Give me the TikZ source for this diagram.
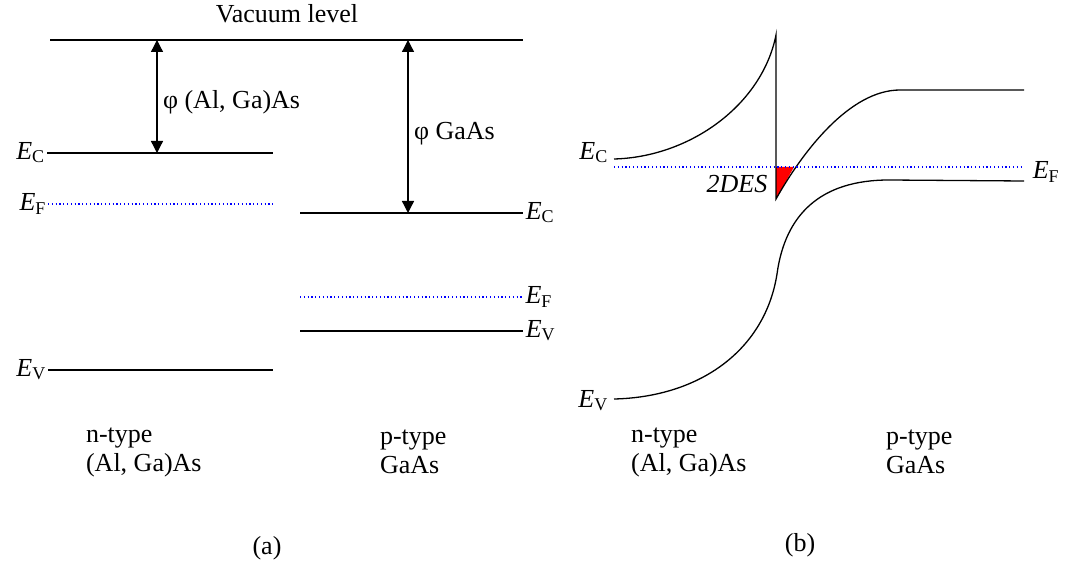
\documentclass[tikz,border=0pt]{standalone}
\usepackage{fontspec}
\setmainfont{Liberation Serif}
\usetikzlibrary{arrows.meta}
\newcommand{\lvl}[1]{\textit{E}\raisebox{-0.12em}{\fontsize{18}{18}\selectfont #1}}

\begin{document}
\begin{tikzpicture}[x=1pt, y=-1pt, >={Triangle[width=12pt,length=12pt]},
    font=\fontsize{26}{29}\selectfont, line width=1.5pt,
    fermi/.style={blue, line width=1.1pt, dash pattern=on 1.2pt off 2.6pt},
    lbl/.style={inner sep=2pt}]
    \useasboundingbox (0,0) rectangle (1075,561);

    % (a) levels before contact
    \node (vac) at (287,14) {Vacuum level};
    \draw (50,40) -- (523,40);
    \draw (47,153) node[lbl, left] (ecn) {\lvl{C}} -- (273,153);
    \draw[fermi] (48,204) node[lbl, left, black] (efn) {\lvl{F}} -- (273,204);
    \draw (48,370) node[lbl, left] (evn) {\lvl{V}} -- (273,370);
    \draw (300,213) -- (523,213) node[lbl, right] (ecp) {\lvl{C}};
    \draw[fermi] (300,297) -- (523,297) node[lbl, right, black] (efp) {\lvl{F}};
    \draw (300,331) -- (523,331) node[lbl, right] (evp) {\lvl{V}};

    \coordinate (phin1) at (157,40);
    \coordinate (phin2) at (157,153);
    \coordinate (phip1) at (408,40);
    \coordinate (phip2) at (408,213);
    \draw[<->, line width=1.3pt] (phin1) -- (phin2);
    \draw[<->, line width=1.3pt] (phip1) -- (phip2);
    \node[anchor=west] (phin) at (159,102) {φ (Al, Ga)As};
    \node[anchor=west] (phip) at (410,134) {φ GaAs};

    \node[anchor=west, align=left] (na) at (82,452) {n-type\\(Al, Ga)As};
    \node[anchor=west, align=left] (pa) at (376,452) {p-type\\GaAs};
    \node (capa) at (267,548) {(a)};

    % (b) heterojunction in equilibrium
    \fill[red] (776,167) -- (776,199) -- (794,167) -- cycle;
    \draw[line width=1.3pt] (614,159) .. controls (690,157) and (762,105) .. (776,35)
        -- (776,199) .. controls (803,151) and (850,90) .. (900,90) -- (1024,90);
    \draw[line width=1.3pt] (614,399) .. controls (700,397) and (765,350) .. (777,274)
        .. controls (785,215) and (820,180) .. (889,180) -- (1024,181);
    \draw[fermi] (614,167) -- (1024,167);
    \node[lbl, anchor=east] (ecb) at (610,153) {\lvl{C}};
    \node[lbl, anchor=west] (efb) at (1030,172) {\lvl{F}};
    \node[lbl, anchor=east] (evb) at (610,401) {\lvl{V}};
    \node[lbl, anchor=east, font=\fontsize{26}{29}\selectfont\itshape] (tdes) at (770,184) {2DES};

    \node[anchor=west, align=left] (nb) at (627,452) {n-type\\(Al, Ga)As};
    \node[anchor=west, align=left] (pb) at (882,452) {p-type\\GaAs};
    \node (capb) at (800,545) {(b)};
\end{tikzpicture}
\end{document}
